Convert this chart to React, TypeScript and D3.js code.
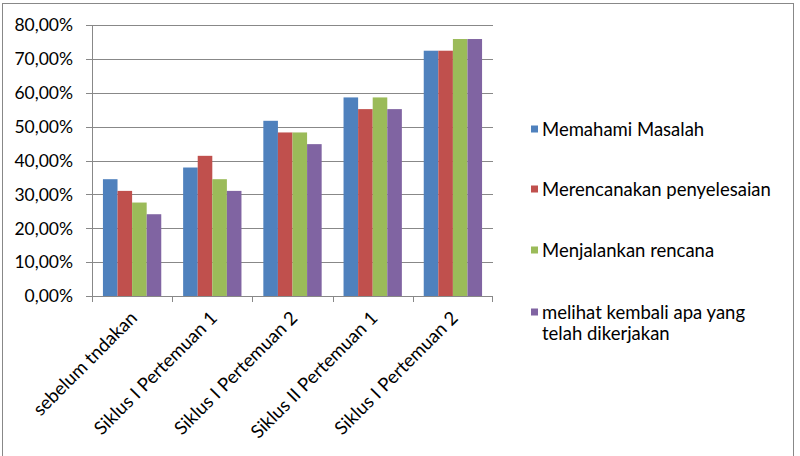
import React from "react";
import * as d3 from "d3";

const categories = [
  "sebelum tndakan",
  "Siklus I Pertemuan 1",
  "Siklus I Pertemuan 2",
  "Siklus II Pertemuan 1",
  "Siklus I Pertemuan 2",
];
const seriesNames = [
  "Memahami Masalah",
  "Merencanakan penyelesaian",
  "Menjalankan rencana",
  "melihat kembali apa yang telah dikerjakan",
];
const memahami = [34.48, 37.93, 51.72, 58.62, 72.41];
const merencanakan = [31.03, 41.38, 48.28, 55.17, 72.41];
const menjalankan = [27.59, 34.48, 48.28, 58.62, 75.86];
const melihat = [24.14, 31.03, 44.83, 55.17, 75.86];
const yTicks = [0, 10, 20, 30, 40, 50, 60, 70, 80];
const colors = ["#4F81BD", "#C0504D", "#9BBB59", "#8064A2"];

const FONT = "Lato, 'Open Sans', sans-serif";

export default function App() {
  const series = [memahami, merencanakan, menjalankan, melihat];
  const left = 92, right = 493, top = 25, bottom = 296;
  const x = d3.scaleBand<string>().domain(categories.map((_, i) => String(i))).range([left, right]).paddingInner(0).paddingOuter(0);
  const y = d3.scaleLinear().domain([0, 80]).range([bottom, top]);
  const bw = x.bandwidth();
  const barW = bw / 5.5;
  const groupOffset = (bw - barW * 4) / 2;
  const fmt = (v: number) => v.toFixed(2).replace(".", ",") + "%";
  const legendY = [129, 189, 250, 312];

  return (
    <svg width={800} height={456} style={{ position: "absolute", left: 0, top: 0 }}>
      <rect x={0} y={0} width={800} height={456} fill="#fff" />
      <rect x={2.5} y={3.5} width={791} height={470} fill="none" stroke="#888" strokeWidth={1} />
      {yTicks.map((t) => (
        <g key={t}>
          {t > 0 && (
            <line x1={left} x2={right} y1={Math.round(y(t)) + 0.5} y2={Math.round(y(t)) + 0.5} stroke="#888" strokeWidth={1} />
          )}
          <line x1={left - 6} x2={left} y1={Math.round(y(t)) + 0.5} y2={Math.round(y(t)) + 0.5} stroke="#888" />
          <text x={left - 19} y={y(t)} dy="0.36em" textAnchor="end" fontFamily={FONT} fontSize={17.5} fill="#000">
            {fmt(t)}
          </text>
        </g>
      ))}
      {series.map((vals, si) =>
        vals.map((v, ci) => (
          <rect
            key={si + "-" + ci}
            x={(x(String(ci)) as number) + groupOffset + si * barW}
            y={y(v)}
            width={barW}
            height={bottom - y(v)}
            fill={colors[si]}
          />
        ))
      )}
      <line x1={left + 0.5} x2={left + 0.5} y1={top} y2={bottom} stroke="#888" />
      <line x1={left} x2={right} y1={bottom + 0.5} y2={bottom + 0.5} stroke="#888" />
      {categories.map((_, i) => {
        const xx = Math.round((x(String(i)) as number)) + 0.5;
        return <line key={i} x1={xx} x2={xx} y1={bottom} y2={bottom + 6} stroke="#888" />;
      })}
      <line x1={right - 0.5} x2={right - 0.5} y1={bottom} y2={bottom + 6} stroke="#888" />
      {categories.map((c, i) => {
        const cx = (x(String(i)) as number) + bw / 2 - 3;
        const cy = bottom + 14;
        return (
          <text key={i} transform={`translate(${cx},${cy}) rotate(-45)`} textAnchor="end" dy="0.7em" fontFamily={FONT} fontSize={18.5} fill="#000">
            {c}
          </text>
        );
      })}
      {seriesNames.map((n, i) => (
        <g key={i}>
          <rect x={531} y={legendY[i] - 3.5} width={7} height={7} fill={colors[i]} />
          {i < 3 ? (
            <text x={542} y={legendY[i]} dy="0.36em" fontFamily={FONT} fontSize={18.5} fill="#000">{n}</text>
          ) : (
            <text x={542} y={legendY[i]} dy="0.36em" fontFamily={FONT} fontSize={18.5} fill="#000">
              <tspan x={542}>melihat kembali apa yang</tspan>
              <tspan x={542} dy="21">telah dikerjakan</tspan>
            </text>
          )}
        </g>
      ))}
    </svg>
  );
}
